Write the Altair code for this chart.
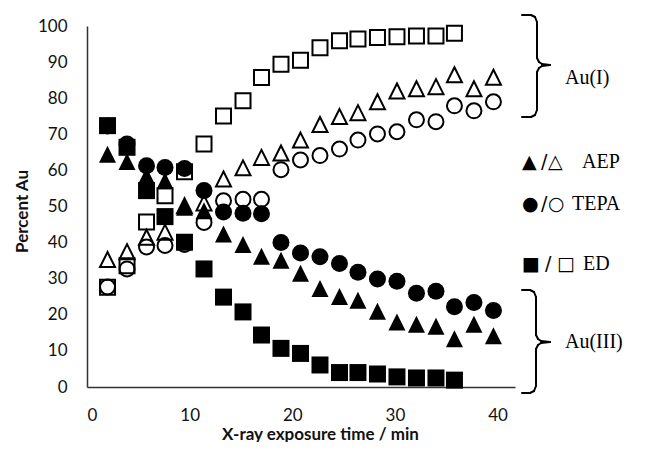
import altair as alt
import pandas as pd

# ---- data ----
times = [2.0, 3.9, 5.8, 7.6, 9.5, 11.4, 13.3, 15.2, 17.0, 18.9, 20.8,
         22.7, 24.6, 26.4, 28.3, 30.2, 32.1, 34.0, 35.8, 37.7, 39.6]

aep_au3 = [64.5, 62.5, 58.5, 57.1, 49.8, 48.8, 42.4, 39.5, 36.2, 35.1, 31.5,
           27.3, 25.1, 24.0, 21.0, 18.0, 17.4, 16.8, 13.4, 17.4, 14.2]
aep_au1 = [35.3, 37.5, 41.5, 42.9, 50.2, 51.0, 57.6, 60.7, 63.6, 64.8, 68.4,
           72.7, 74.9, 76.0, 79.0, 82.0, 82.6, 83.2, 86.5, 82.6, 85.8]

tepa_au3 = [72.3, 67.3, 61.3, 60.8, 60.5, 54.4, 48.5, 48.1, 48.0, 40.0, 37.1,
            36.1, 34.2, 31.8, 29.9, 29.3, 26.0, 26.5, 22.2, 23.4, 21.2]
tepa_au1 = [27.7, 32.7, 38.8, 39.2, 39.5, 45.6, 51.6, 52.0, 52.0, 60.2, 62.9,
            64.1, 65.9, 68.4, 70.1, 70.7, 74.0, 73.5, 77.9, 76.5, 79.0]

ed_au3 = [72.4, 66.4, 54.4, 47.2, 40.1, 32.7, 24.9, 20.8, 14.4, 10.7, 9.3,
          6.1, 4.0, 4.0, 3.6, 2.8, 2.5, 2.5, 1.9]
ed_au1 = [27.6, 33.6, 45.7, 53.0, 59.6, 67.3, 75.1, 79.3, 85.7, 89.4, 90.5,
          94.0, 95.9, 96.4, 96.8, 97.0, 97.2, 97.2, 98.0]

amines = ["AEP", "TEPA", "ED"]
x_ticks = [0, 10, 20, 30, 40]
y_ticks = [0, 10, 20, 30, 40, 50, 60, 70, 80, 90, 100]

rows = []
for amine, au3, au1 in [("AEP", aep_au3, aep_au1),
                        ("TEPA", tepa_au3, tepa_au1),
                        ("ED", ed_au3, ed_au1)]:
    for t, v in zip(times, au3):
        rows.append({"time": t, "pct": v, "amine": amine, "state": "Au(III)"})
    for t, v in zip(times, au1):
        rows.append({"time": t, "pct": v, "amine": amine, "state": "Au(I)"})
df = pd.DataFrame(rows)

TRI = "M0,-1L1,1L-1,1Z"
shape_scale = alt.Scale(domain=amines, range=[TRI, "circle", "square"])

x_enc = alt.X("time:Q", scale=alt.Scale(domain=[0, 41.7], nice=False),
              axis=alt.Axis(values=x_ticks, title="X-ray exposure time / min",
                            labelPadding=20, titleX=233, titleY=52,
                            titleBaseline="alphabetic", titleAlign="center"))
y_enc = alt.Y("pct:Q", scale=alt.Scale(domain=[0, 100], nice=False),
              axis=alt.Axis(values=y_ticks, title="Percent Au",
                            labelPadding=20, titleX=-65, titleY=185,
                            titleAngle=-90, titleBaseline="middle",
                            titleAlign="center"))

base = alt.Chart(df)
filled = base.transform_filter(alt.datum.state == "Au(III)").mark_point(
    filled=True, size=289, opacity=1, color="black", strokeWidth=0
).encode(x=x_enc, y=y_enc, shape=alt.Shape("amine:N", scale=shape_scale, legend=None))
opened = base.transform_filter(alt.datum.state == "Au(I)").mark_point(
    filled=False, size=225, opacity=1, color="black", strokeWidth=2
).encode(x=x_enc, y=y_enc, shape=alt.Shape("amine:N", scale=shape_scale, legend=None))


def label(txt, x, y, size=20, font="Liberation Serif"):
    return alt.Chart(alt.Data(values=[{}])).mark_text(
        text=txt, font=font, fontSize=size, color="black",
        align="left", baseline="alphabetic"
    ).encode(x=alt.value(x), y=alt.value(y))


def seg(x1, y1, x2, y2):
    return alt.Chart(alt.Data(values=[{}])).mark_rule(
        color="black", strokeWidth=2, strokeCap="round"
    ).encode(x=alt.value(x1), y=alt.value(y1), x2=alt.value(x2), y2=alt.value(y2))


def brace(xl, xv, xt, yt, ym, yb):
    pts = [(xl, yt), (xv - 6, yt), (xv - 2, yt + 2), (xv, yt + 7),
           (xv, ym - 7), (xv + 2, ym - 3), (xv + 5, ym - 1), (xt, ym),
           (xv + 5, ym + 1), (xv + 2, ym + 3), (xv, ym + 7),
           (xv, yb - 7), (xv - 2, yb - 2), (xv - 6, yb), (xl, yb)]
    return [seg(a[0], a[1], b[0], b[1]) for a, b in zip(pts[:-1], pts[1:])]


SYM = "DejaVu Sans"
# plot origin on the page is (87, 26); annotation positions are relative to it
layers = [filled, opened,
          label("\u25B2", 435, 142, 19, SYM), label("/", 454, 142, 19, SYM),
          label("\u25B3", 461, 142, 19, SYM), label("AEP", 495, 142),
          label("\u25CF", 435, 184, 19, SYM), label("/", 454, 184, 19, SYM),
          label("\u25CB", 461, 184, 19, SYM), label("TEPA", 485, 184),
          label("\u25A0", 435, 244, 19, SYM), label("/", 458, 244, 19, SYM),
          label("\u25A1", 470, 244, 19, SYM), label("ED", 496, 244),
          label("Au(I)", 478, 58),
          label("Au(III)", 478, 322)]
layers += brace(435, 450, 463, -11, 39, 91)
layers += brace(435, 449, 463, 264, 316, 367)

chart = alt.layer(*layers).properties(
    width=428, height=361,
    autosize=alt.AutoSizeParams(type="none"),
    padding={"left": 79, "top": 18, "right": 122, "bottom": 55},
).configure_view(stroke=None).configure_axis(
    grid=False, ticks=False, domainColor="#333333", domainWidth=1.5,
    labelFont="Lato", labelFontSize=17, labelColor="#111111",
    titleFont="Lato", titleFontSize=17, titleFontWeight="bold", titleColor="#111111",
)

chart.save("out.html", embed_options={"renderer": "svg", "actions": False})
